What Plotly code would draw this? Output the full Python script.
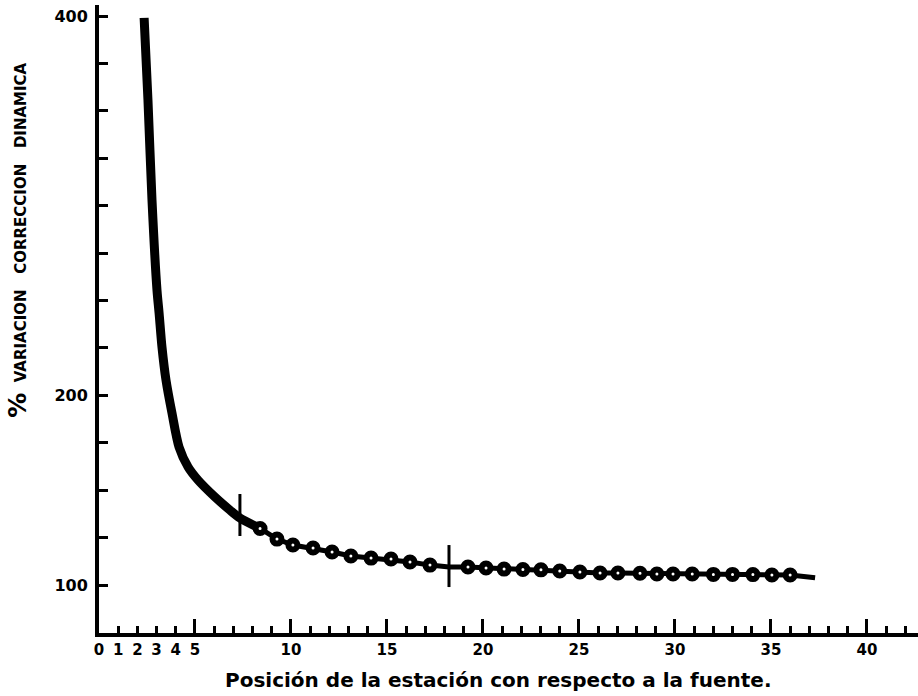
import plotly.graph_objects as go

# steep part of the curve (x = position, y = % variation)
curve_x = [2.35, 2.55, 2.76, 3.02, 3.13, 3.28, 3.49, 3.80, 4.17, 4.64, 5.16, 6.04, 6.82, 7.34, 8.39]
curve_y = [399, 355.7, 303, 255.5, 243.4, 225.5, 208, 190.7, 172.7, 162.2, 155.3, 146.4, 139.5, 135.3, 129.8]

# tail of the curve with circle markers
tail_x = [8.39, 9.27, 10.1, 11.15, 12.14, 13.12, 14.17, 15.21, 16.2, 17.24, 18.23, 19.22, 20.16, 21.1,
          22.08, 23.02, 24.0, 25.05, 26.1, 27.03, 28.18, 29.06, 29.9, 30.9, 32.0, 33.0, 34.06, 35.05, 36.0, 37.3]
tail_y = [129.8, 124.2, 121.1, 119.5, 117.4, 115.3, 114.2, 113.7, 112.1, 110.5, 109.5, 109.5, 109.0, 108.4,
          108.2, 108.0, 107.4, 106.9, 106.3, 106.3, 106.2, 105.8, 105.8, 105.8, 105.6, 105.6, 105.5, 105.3, 105.3, 103.8]
circle_x = [8.39, 9.27, 10.1, 11.15, 12.14, 13.12, 14.17, 15.21, 16.2, 17.24, 19.22, 20.16, 21.1,
            22.08, 23.02, 24.0, 25.05, 26.1, 27.03, 28.18, 29.06, 29.9, 30.9, 32.0, 33.0, 34.06, 35.05, 36.0]
circle_y = [129.8, 124.2, 121.1, 119.5, 117.4, 115.3, 114.2, 113.7, 112.1, 110.5, 109.5, 109.0, 108.4,
            108.2, 108.0, 107.4, 106.9, 106.3, 106.3, 106.2, 105.8, 105.8, 105.8, 105.6, 105.6, 105.5, 105.3, 105.3]

# vertical marks crossing the curve
mark_x = [7.34, 18.23]
mark_y = [136.9, 110.0]

xtick_vals = list(range(0, 43))
xtick_text = [str(v) if (v <= 5 or v % 5 == 0) else "" for v in xtick_vals]
xmajor_vals = list(range(0, 43, 5))
ytick_vals = list(range(100, 401, 25))
ytick_text = [str(v) if v in (100, 200, 400) else "" for v in ytick_vals]

FONT = "DejaVu Sans"

fig = go.Figure()
fig.add_trace(go.Scatter(x=curve_x, y=curve_y, mode="lines",
                         line=dict(color="black", width=9, shape="spline", smoothing=0.8),
                         showlegend=False, hoverinfo="skip"))
fig.add_trace(go.Scatter(x=tail_x, y=tail_y, mode="lines",
                         line=dict(color="black", width=5), showlegend=False, hoverinfo="skip"))
fig.add_trace(go.Scatter(x=circle_x, y=circle_y, mode="markers",
                         marker=dict(symbol="circle", size=9, color="white",
                                     line=dict(color="black", width=6)),
                         showlegend=False, hoverinfo="skip"))
fig.add_trace(go.Scatter(x=mark_x, y=mark_y, mode="markers",
                         marker=dict(symbol="line-ns", size=30,
                                     line=dict(color="black", width=3)),
                         showlegend=False, hoverinfo="skip"))
# overlay axis for the tall ticks at multiples of 5
fig.add_trace(go.Scatter(x=[None], y=[None], xaxis="x2", showlegend=False, hoverinfo="skip"))

fig.update_layout(
    width=918, height=696,
    margin=dict(l=99, r=0, t=5, b=63, autoexpand=False),
    paper_bgcolor="white", plot_bgcolor="white",
    hovermode=False,
    xaxis=dict(range=[0, 42.66], showgrid=False, zeroline=False, automargin=False,
               showline=True, linecolor="black", linewidth=4,
               ticks="inside", ticklen=7, tickwidth=3, tickcolor="black",
               tickvals=xtick_vals, ticktext=xtick_text,
               tickfont=dict(family=FONT, size=15, color="black", weight="bold")),
    xaxis2=dict(range=[0, 42.66], overlaying="x", side="bottom", showgrid=False, zeroline=False,
                showline=False, ticks="inside", ticklen=14, tickwidth=3, tickcolor="black",
                tickvals=xmajor_vals, showticklabels=False, automargin=False),
    yaxis=dict(range=[74.7, 405.8], showgrid=False, zeroline=False, automargin=False,
               showline=True, linecolor="black", linewidth=4,
               ticks="inside", ticklen=9, tickwidth=3, tickcolor="black",
               tickvals=ytick_vals, ticktext=ytick_text,
               ticklabelstandoff=4,
               tickfont=dict(family=FONT, size=16, color="black", weight="bold")),
    annotations=[
        dict(text="Posición de la estación con respecto a la fuente.",
             xref="paper", yref="paper", x=0.488, y=-0.075, xanchor="center", yanchor="middle",
             showarrow=False, font=dict(family=FONT, size=20, color="black", weight="bold")),
        dict(text="<span style='font-size:25px'>%</span>  VARIACION   CORRECCION   DINAMICA",
             xref="paper", yref="paper", x=-0.099, y=0.626, xanchor="center", yanchor="middle",
             textangle=-90, showarrow=False,
             font=dict(family=FONT, size=15, color="black", weight="bold")),
    ],
)

fig.write_html("out.html", config={"displayModeBar": False},
               post_script="document.body.style.margin='0';")
